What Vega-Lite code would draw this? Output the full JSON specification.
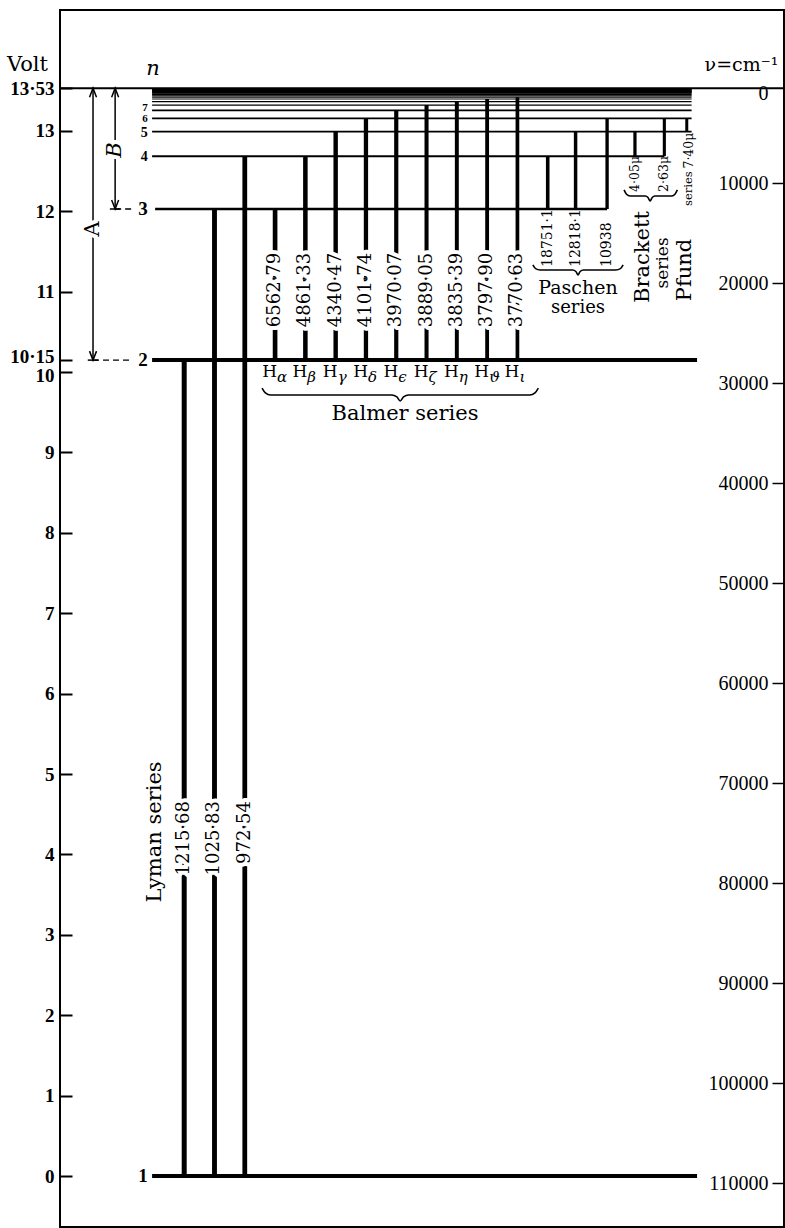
{
 "$schema": "https://vega.github.io/schema/vega-lite/v6.json",
 "width": 724,
 "height": 1217,
 "autosize": {"type": "none"},
 "padding": {"left": 60, "top": 10, "right": 1, "bottom": 1},
 "background": "white",
 "config": {"view": {"stroke": "black", "strokeWidth": 2}, "axis": {"grid": false, "domain": false}},
 "datasets": {
  "levels": [
   {"n": 1, "E": 0}, {"n": 2, "E": 10.1475}, {"n": 3, "E": 12.027}, {"n": 4, "E": 12.684},
   {"n": 5, "E": 12.989}, {"n": 6, "E": 13.154}, {"n": 7, "E": 13.254}, {"n": 8, "E": 13.319},
   {"n": 9, "E": 13.363}, {"n": 10, "E": 13.395}, {"n": 11, "E": 13.418}, {"n": 12, "E": 13.436},
   {"n": 13, "E": 13.45}, {"n": 14, "E": 13.461}, {"n": 15, "E": 13.47}, {"n": 16, "E": 13.477},
   {"n": 17, "E": 13.483}, {"n": 18, "E": 13.488}, {"n": 20, "E": 13.496}, {"n": 22, "E": 13.502},
   {"n": 25, "E": 13.508}, {"n": 30, "E": 13.515}, {"n": 40, "E": 13.522}
  ],
  "transitions": [
   {"series": "Lyman", "col": 0, "Eu": 10.1475, "El": 0, "label": "1215·68"},
   {"series": "Lyman", "col": 1, "Eu": 12.027, "El": 0, "label": "1025·83"},
   {"series": "Lyman", "col": 2, "Eu": 12.684, "El": 0, "label": "972·54"},
   {"series": "Balmer", "col": 3, "Eu": 12.027, "El": 10.1475, "label": "6562·79", "greek": "α"},
   {"series": "Balmer", "col": 4, "Eu": 12.684, "El": 10.1475, "label": "4861·33", "greek": "β"},
   {"series": "Balmer", "col": 5, "Eu": 12.989, "El": 10.1475, "label": "4340·47", "greek": "γ"},
   {"series": "Balmer", "col": 6, "Eu": 13.154, "El": 10.1475, "label": "4101·74", "greek": "δ"},
   {"series": "Balmer", "col": 7, "Eu": 13.254, "El": 10.1475, "label": "3970·07", "greek": "ϵ"},
   {"series": "Balmer", "col": 8, "Eu": 13.319, "El": 10.1475, "label": "3889·05", "greek": "ζ"},
   {"series": "Balmer", "col": 9, "Eu": 13.363, "El": 10.1475, "label": "3835·39", "greek": "η"},
   {"series": "Balmer", "col": 10, "Eu": 13.395, "El": 10.1475, "label": "3797·90", "greek": "ϑ"},
   {"series": "Balmer", "col": 11, "Eu": 13.418, "El": 10.1475, "label": "3770·63", "greek": "ι"},
   {"series": "Paschen", "col": 12, "Eu": 12.684, "El": 12.027, "label": "18751·1"},
   {"series": "Paschen", "col": 12.92, "Eu": 12.989, "El": 12.027, "label": "12818·1"},
   {"series": "Paschen", "col": 13.96, "Eu": 13.154, "El": 12.027, "label": "10938"},
   {"series": "Brackett", "col": 14.88, "Eu": 12.989, "El": 12.684, "label": "4·05μ"},
   {"series": "Brackett", "col": 15.85, "Eu": 13.154, "El": 12.684, "label": "2·63μ"},
   {"series": "Pfund", "col": 16.59, "Eu": 13.154, "El": 12.989, "label": "7·40μ"}
  ],
  "arrows": [
   {"name": "A", "col": -3.01, "top": 13.53, "bottom": 10.1475},
   {"name": "B", "col": -2.28, "top": 13.53, "bottom": 12.027}
  ],
  "braces": [
   {"brace": "Balmer", "o": 1, "x": 2.57, "y": 9.8}, {"brace": "Balmer", "o": 2, "x": 2.68, "y": 9.74},
   {"brace": "Balmer", "o": 3, "x": 2.85, "y": 9.714}, {"brace": "Balmer", "o": 4, "x": 6.85, "y": 9.714},
   {"brace": "Balmer", "o": 5, "x": 7.02, "y": 9.69}, {"brace": "Balmer", "o": 6, "x": 7.13, "y": 9.64},
   {"brace": "Balmer", "o": 7, "x": 7.24, "y": 9.69}, {"brace": "Balmer", "o": 8, "x": 7.41, "y": 9.714},
   {"brace": "Balmer", "o": 9, "x": 11.41, "y": 9.714}, {"brace": "Balmer", "o": 10, "x": 11.58, "y": 9.74},
   {"brace": "Balmer", "o": 11, "x": 11.69, "y": 9.8},
   {"brace": "Paschen", "o": 1, "x": 11.51, "y": 11.331}, {"brace": "Paschen", "o": 2, "x": 11.6, "y": 11.285},
   {"brace": "Paschen", "o": 3, "x": 11.75, "y": 11.269}, {"brace": "Paschen", "o": 4, "x": 12.82, "y": 11.269},
   {"brace": "Paschen", "o": 5, "x": 12.93, "y": 11.25}, {"brace": "Paschen", "o": 6, "x": 13.0, "y": 11.206},
   {"brace": "Paschen", "o": 7, "x": 13.07, "y": 11.25}, {"brace": "Paschen", "o": 8, "x": 13.18, "y": 11.269},
   {"brace": "Paschen", "o": 9, "x": 14.25, "y": 11.269}, {"brace": "Paschen", "o": 10, "x": 14.4, "y": 11.285},
   {"brace": "Paschen", "o": 11, "x": 14.49, "y": 11.331},
   {"brace": "Brackett", "o": 1, "x": 14.52, "y": 12.264}, {"brace": "Brackett", "o": 2, "x": 14.6, "y": 12.21},
   {"brace": "Brackett", "o": 3, "x": 14.72, "y": 12.189}, {"brace": "Brackett", "o": 4, "x": 15.22, "y": 12.189},
   {"brace": "Brackett", "o": 5, "x": 15.31, "y": 12.17}, {"brace": "Brackett", "o": 6, "x": 15.38, "y": 12.127},
   {"brace": "Brackett", "o": 7, "x": 15.45, "y": 12.17}, {"brace": "Brackett", "o": 8, "x": 15.54, "y": 12.189},
   {"brace": "Brackett", "o": 9, "x": 16.1, "y": 12.189}, {"brace": "Brackett", "o": 10, "x": 16.2, "y": 12.21},
   {"brace": "Brackett", "o": 11, "x": 16.28, "y": 12.264}
  ]
 },
 "layer": [
  {
   "layer": [
    {
     "data": {"name": "levels"},
     "transform": [{"filter": "datum.n >= 5"}],
     "mark": {"type": "rule", "color": "black"},
     "encoding": {
      "y": {"field": "E", "type": "quantitative", "scale": {"domain": [-0.634, 14.502], "nice": false, "zero": false}, "axis": null},
      "x": {"datum": -1.06, "type": "quantitative", "scale": {"domain": [-4.1, 19.8], "nice": false, "zero": false}, "axis": null},
      "x2": {"datum": 16.75},
      "strokeWidth": {"field": "n", "type": "quantitative", "scale": {"type": "threshold", "domain": [8], "range": [1.6, 1.1]}, "legend": null}
     }
    },
    {
     "data": {"name": "levels"},
     "transform": [{"filter": "datum.n == 4"}],
     "mark": {"type": "rule", "color": "black", "strokeWidth": 2},
     "encoding": {
      "y": {"field": "E", "type": "quantitative", "scale": {"domain": [-0.634, 14.502], "nice": false, "zero": false}, "axis": null},
      "x": {"datum": -1.06, "type": "quantitative", "scale": {"domain": [-4.1, 19.8], "nice": false, "zero": false}, "axis": null},
      "x2": {"datum": 15.85}
     }
    },
    {
     "data": {"name": "levels"},
     "transform": [{"filter": "datum.n == 3"}],
     "mark": {"type": "rule", "color": "black", "strokeWidth": 2.4},
     "encoding": {
      "y": {"field": "E", "type": "quantitative", "scale": {"domain": [-0.634, 14.502], "nice": false, "zero": false}, "axis": null},
      "x": {"datum": -0.96, "type": "quantitative", "scale": {"domain": [-4.1, 19.8], "nice": false, "zero": false}, "axis": null},
      "x2": {"datum": 13.96}
     }
    },
    {
     "data": {"name": "levels"},
     "transform": [{"filter": "datum.n <= 2"}],
     "mark": {"type": "rule", "color": "black", "strokeWidth": 4},
     "encoding": {
      "y": {"field": "E", "type": "quantitative", "scale": {"domain": [-0.634, 14.502], "nice": false, "zero": false}, "axis": null},
      "x": {"datum": -1.06, "type": "quantitative", "scale": {"domain": [-4.1, 19.8], "nice": false, "zero": false}, "axis": null},
      "x2": {"datum": 16.93}
     }
    },
    {
     "data": {"values": [{"E": 13.53}]},
     "mark": {"type": "rule", "color": "black", "strokeWidth": 2},
     "encoding": {
      "y": {"field": "E", "type": "quantitative", "scale": {"domain": [-0.634, 14.502], "nice": false, "zero": false}, "axis": null},
      "x": {"datum": -4.1, "type": "quantitative", "scale": {"domain": [-4.1, 19.8], "nice": false, "zero": false}, "axis": null},
      "x2": {"datum": 19.8}
     }
    },
    {
     "data": {"name": "transitions"},
     "mark": {"type": "rule", "color": "black"},
     "encoding": {
      "x": {"field": "col", "type": "quantitative", "scale": {"domain": [-4.1, 19.8], "nice": false, "zero": false}, "axis": null},
      "y": {"field": "Eu", "type": "quantitative", "scale": {"domain": [-0.634, 14.502], "nice": false, "zero": false}, "axis": null},
      "y2": {"field": "El"},
      "strokeWidth": {"field": "label", "type": "nominal", "legend": null,
       "scale": {"domain": ["1215·68", "1025·83", "972·54", "6562·79", "4861·33", "4340·47", "4101·74", "3970·07", "3889·05", "3835·39", "3797·90", "3770·63", "18751·1", "12818·1", "10938", "4·05μ", "2·63μ", "7·40μ"],
        "range": [5, 3, 2, 5, 4, 3, 2.5, 2, 2, 2, 2, 2, 2.5, 2, 2, 2, 1.6, 1.6]}}
     }
    },
    {
     "data": {"name": "arrows"},
     "mark": {"type": "rule", "color": "black", "strokeWidth": 1.5},
     "encoding": {
      "x": {"field": "col", "type": "quantitative", "scale": {"domain": [-4.1, 19.8], "nice": false, "zero": false}, "axis": null},
      "y": {"field": "top", "type": "quantitative", "scale": {"domain": [-0.634, 14.502], "nice": false, "zero": false}, "axis": null},
      "y2": {"field": "bottom"}
     }
    },
    {
     "data": {"name": "arrows"},
     "mark": {"type": "point", "filled": false, "color": "black", "strokeWidth": 1.5, "size": 100, "opacity": 1, "shape": "M-0.7,1.8L0,0L0.7,1.8"},
     "encoding": {
      "x": {"field": "col", "type": "quantitative", "scale": {"domain": [-4.1, 19.8], "nice": false, "zero": false}, "axis": null},
      "y": {"field": "top", "type": "quantitative", "scale": {"domain": [-0.634, 14.502], "nice": false, "zero": false}, "axis": null}
     }
    },
    {
     "data": {"name": "arrows"},
     "mark": {"type": "point", "filled": false, "color": "black", "strokeWidth": 1.5, "size": 100, "opacity": 1, "shape": "M-0.7,-1.8L0,0L0.7,-1.8"},
     "encoding": {
      "x": {"field": "col", "type": "quantitative", "scale": {"domain": [-4.1, 19.8], "nice": false, "zero": false}, "axis": null},
      "y": {"field": "bottom", "type": "quantitative", "scale": {"domain": [-0.634, 14.502], "nice": false, "zero": false}, "axis": null}
     }
    },
    {
     "data": {"name": "arrows"},
     "mark": {"type": "point", "filled": false, "color": "black", "strokeWidth": 1.5, "size": 110, "opacity": 1, "shape": "stroke"},
     "encoding": {
      "x": {"field": "col", "type": "quantitative", "scale": {"domain": [-4.1, 19.8], "nice": false, "zero": false}, "axis": null},
      "y": {"field": "bottom", "type": "quantitative", "scale": {"domain": [-0.634, 14.502], "nice": false, "zero": false}, "axis": null}
     }
    },
    {
     "data": {"name": "arrows"},
     "mark": {"type": "rule", "color": "black", "strokeWidth": 1.4, "strokeDash": [6, 4]},
     "encoding": {
      "x": {"field": "col", "type": "quantitative", "scale": {"domain": [-4.1, 19.8], "nice": false, "zero": false}, "axis": null},
      "x2": {"datum": -1.69},
      "y": {"field": "bottom", "type": "quantitative", "scale": {"domain": [-0.634, 14.502], "nice": false, "zero": false}, "axis": null}
     }
    },
    {
     "data": {"name": "transitions"},
     "transform": [{"filter": "datum.series == 'Lyman'"}],
     "mark": {"type": "text", "angle": 270, "align": "right", "baseline": "middle", "font": "DejaVu Serif", "fontSize": 18, "fill": "white", "stroke": "white", "strokeWidth": 8, "strokeJoin": "round"},
     "encoding": {
      "x": {"field": "col", "type": "quantitative", "scale": {"domain": [-4.1, 19.8], "nice": false, "zero": false}, "axis": null},
      "y": {"datum": 4.664, "type": "quantitative", "scale": {"domain": [-0.634, 14.502], "nice": false, "zero": false}, "axis": null},
      "text": {"field": "label", "type": "nominal"}
     }
    },
    {
     "data": {"name": "transitions"},
     "transform": [{"filter": "datum.series == 'Balmer'"}],
     "mark": {"type": "text", "angle": 270, "align": "center", "baseline": "middle", "font": "DejaVu Serif", "fontSize": 18, "fill": "white", "stroke": "white", "strokeWidth": 8, "strokeJoin": "round"},
     "encoding": {
      "x": {"field": "col", "type": "quantitative", "scale": {"domain": [-4.1, 19.8], "nice": false, "zero": false}, "axis": null},
      "y": {"datum": 11.02, "type": "quantitative", "scale": {"domain": [-0.634, 14.502], "nice": false, "zero": false}, "axis": null},
      "text": {"field": "label", "type": "nominal"}
     }
    },
    {
     "data": {"name": "arrows"},
     "transform": [{"filter": "datum.name == 'A'"}],
     "mark": {"type": "text", "angle": 270, "align": "center", "baseline": "middle", "font": "DejaVu Serif", "fontSize": 21, "fill": "white", "stroke": "white", "strokeWidth": 8, "strokeJoin": "round"},
     "encoding": {
      "x": {"field": "col", "type": "quantitative", "scale": {"domain": [-4.1, 19.8], "nice": false, "zero": false}, "axis": null},
      "y": {"datum": 11.778, "type": "quantitative", "scale": {"domain": [-0.634, 14.502], "nice": false, "zero": false}, "axis": null},
      "text": {"field": "name", "type": "nominal"}
     }
    },
    {
     "data": {"name": "arrows"},
     "transform": [{"filter": "datum.name == 'B'"}],
     "mark": {"type": "text", "angle": 270, "align": "center", "baseline": "middle", "font": "DejaVu Serif", "fontStyle": "italic", "fontSize": 21, "fill": "white", "stroke": "white", "strokeWidth": 8, "strokeJoin": "round"},
     "encoding": {
      "x": {"field": "col", "type": "quantitative", "scale": {"domain": [-4.1, 19.8], "nice": false, "zero": false}, "axis": null},
      "y": {"datum": 12.761, "type": "quantitative", "scale": {"domain": [-0.634, 14.502], "nice": false, "zero": false}, "axis": null},
      "text": {"field": "name", "type": "nominal"}
     }
    },
    {
     "data": {"name": "arrows"},
     "transform": [{"filter": "datum.name == 'A'"}],
     "mark": {"type": "text", "angle": 270, "align": "center", "baseline": "middle", "font": "DejaVu Serif", "fontSize": 21, "color": "black"},
     "encoding": {
      "x": {"field": "col", "type": "quantitative", "scale": {"domain": [-4.1, 19.8], "nice": false, "zero": false}, "axis": null},
      "y": {"datum": 11.778, "type": "quantitative", "scale": {"domain": [-0.634, 14.502], "nice": false, "zero": false}, "axis": null},
      "text": {"field": "name", "type": "nominal"}
     }
    },
    {
     "data": {"name": "arrows"},
     "transform": [{"filter": "datum.name == 'B'"}],
     "mark": {"type": "text", "angle": 270, "align": "center", "baseline": "middle", "font": "DejaVu Serif", "fontStyle": "italic", "fontSize": 21, "color": "black"},
     "encoding": {
      "x": {"field": "col", "type": "quantitative", "scale": {"domain": [-4.1, 19.8], "nice": false, "zero": false}, "axis": null},
      "y": {"datum": 12.761, "type": "quantitative", "scale": {"domain": [-0.634, 14.502], "nice": false, "zero": false}, "axis": null},
      "text": {"field": "name", "type": "nominal"}
     }
    },
    {
     "data": {"name": "transitions"},
     "transform": [{"filter": "datum.series == 'Lyman'"}],
     "mark": {"type": "text", "angle": 270, "align": "right", "baseline": "middle", "font": "DejaVu Serif", "fontSize": 18, "color": "black"},
     "encoding": {
      "x": {"field": "col", "type": "quantitative", "scale": {"domain": [-4.1, 19.8], "nice": false, "zero": false}, "axis": null},
      "y": {"datum": 4.664, "type": "quantitative", "scale": {"domain": [-0.634, 14.502], "nice": false, "zero": false}, "axis": null},
      "text": {"field": "label", "type": "nominal"}
     }
    },
    {
     "data": {"name": "transitions"},
     "transform": [{"filter": "datum.series == 'Balmer'"}],
     "mark": {"type": "text", "angle": 270, "align": "center", "baseline": "middle", "font": "DejaVu Serif", "fontSize": 18, "color": "black"},
     "encoding": {
      "x": {"field": "col", "type": "quantitative", "scale": {"domain": [-4.1, 19.8], "nice": false, "zero": false}, "axis": null},
      "y": {"datum": 11.02, "type": "quantitative", "scale": {"domain": [-0.634, 14.502], "nice": false, "zero": false}, "axis": null},
      "text": {"field": "label", "type": "nominal"}
     }
    },
    {
     "data": {"name": "transitions"},
     "transform": [{"filter": "datum.series == 'Paschen'"}],
     "mark": {"type": "text", "angle": 270, "align": "left", "baseline": "middle", "font": "DejaVu Serif", "fontSize": 14, "color": "black"},
     "encoding": {
      "x": {"field": "col", "type": "quantitative", "scale": {"domain": [-4.1, 19.8], "nice": false, "zero": false}, "axis": null},
      "y": {"datum": 11.306, "type": "quantitative", "scale": {"domain": [-0.634, 14.502], "nice": false, "zero": false}, "axis": null},
      "text": {"field": "label", "type": "nominal"}
     }
    },
    {
     "data": {"name": "transitions"},
     "transform": [{"filter": "datum.series == 'Brackett'"}],
     "mark": {"type": "text", "angle": 270, "align": "left", "baseline": "middle", "font": "DejaVu Serif", "fontSize": 12.5, "color": "black"},
     "encoding": {
      "x": {"field": "col", "type": "quantitative", "scale": {"domain": [-4.1, 19.8], "nice": false, "zero": false}, "axis": null},
      "y": {"datum": 12.239, "type": "quantitative", "scale": {"domain": [-0.634, 14.502], "nice": false, "zero": false}, "axis": null},
      "text": {"field": "label", "type": "nominal"}
     }
    },
    {
     "data": {"name": "transitions"},
     "transform": [{"filter": "datum.series == 'Pfund'"}],
     "mark": {"type": "text", "angle": 270, "align": "left", "baseline": "middle", "font": "DejaVu Serif", "fontSize": 12.5, "color": "black", "dx": 0, "dy": 2},
     "encoding": {
      "x": {"field": "col", "type": "quantitative", "scale": {"domain": [-4.1, 19.8], "nice": false, "zero": false}, "axis": null},
      "y": {"datum": 12.53, "type": "quantitative", "scale": {"domain": [-0.634, 14.502], "nice": false, "zero": false}, "axis": null},
      "text": {"field": "label", "type": "nominal"}
     }
    },
    {
     "data": {"name": "transitions"},
     "transform": [{"filter": "datum.series == 'Balmer'"}],
     "mark": {"type": "text", "align": "right", "baseline": "middle", "dx": 2, "font": "DejaVu Serif", "fontSize": 17, "color": "black"},
     "encoding": {
      "x": {"field": "col", "type": "quantitative", "scale": {"domain": [-4.1, 19.8], "nice": false, "zero": false}, "axis": null},
      "y": {"datum": 10.0, "type": "quantitative", "scale": {"domain": [-0.634, 14.502], "nice": false, "zero": false}, "axis": null},
      "text": {"value": "H"}
     }
    },
    {
     "data": {"name": "transitions"},
     "transform": [{"filter": "datum.series == 'Balmer'"}],
     "mark": {"type": "text", "align": "left", "baseline": "middle", "dx": 2, "dy": 5, "font": "DejaVu Serif", "fontStyle": "italic", "fontSize": 15, "color": "black"},
     "encoding": {
      "x": {"field": "col", "type": "quantitative", "scale": {"domain": [-4.1, 19.8], "nice": false, "zero": false}, "axis": null},
      "y": {"datum": 10.0, "type": "quantitative", "scale": {"domain": [-0.634, 14.502], "nice": false, "zero": false}, "axis": null},
      "text": {"field": "greek", "type": "nominal"}
     }
    },
    {
     "data": {"name": "braces"},
     "mark": {"type": "line", "color": "black", "strokeWidth": 1.6, "interpolate": "monotone"},
     "encoding": {
      "x": {"field": "x", "type": "quantitative", "scale": {"domain": [-4.1, 19.8], "nice": false, "zero": false}, "axis": null},
      "y": {"field": "y", "type": "quantitative", "scale": {"domain": [-0.634, 14.502], "nice": false, "zero": false}, "axis": null},
      "detail": {"field": "brace", "type": "nominal"},
      "order": {"field": "o", "type": "quantitative"}
     }
    },
    {
     "data": {"name": "levels"},
     "transform": [{"filter": "datum.n <= 3"}],
     "mark": {"type": "text", "align": "right", "baseline": "middle", "font": "Liberation Serif", "fontSize": 19, "fontWeight": "bold", "color": "black"},
     "encoding": {
      "x": {"datum": -1.2, "type": "quantitative", "scale": {"domain": [-4.1, 19.8], "nice": false, "zero": false}, "axis": null},
      "y": {"field": "E", "type": "quantitative", "scale": {"domain": [-0.634, 14.502], "nice": false, "zero": false}, "axis": null},
      "text": {"field": "n", "type": "nominal"}
     }
    },
    {
     "data": {"name": "levels"},
     "transform": [{"filter": "datum.n == 4 || datum.n == 5"}],
     "mark": {"type": "text", "align": "right", "baseline": "middle", "dy": 1, "font": "Liberation Serif", "fontSize": 14, "fontWeight": "bold", "color": "black"},
     "encoding": {
      "x": {"datum": -1.2, "type": "quantitative", "scale": {"domain": [-4.1, 19.8], "nice": false, "zero": false}, "axis": null},
      "y": {"field": "E", "type": "quantitative", "scale": {"domain": [-0.634, 14.502], "nice": false, "zero": false}, "axis": null},
      "text": {"field": "n", "type": "nominal"}
     }
    },
    {
     "data": {"name": "levels"},
     "transform": [{"filter": "datum.n == 6"}],
     "mark": {"type": "text", "align": "right", "baseline": "middle", "dy": 0.5, "font": "Liberation Serif", "fontSize": 11, "fontWeight": "bold", "color": "black"},
     "encoding": {
      "x": {"datum": -1.2, "type": "quantitative", "scale": {"domain": [-4.1, 19.8], "nice": false, "zero": false}, "axis": null},
      "y": {"field": "E", "type": "quantitative", "scale": {"domain": [-0.634, 14.502], "nice": false, "zero": false}, "axis": null},
      "text": {"field": "n", "type": "nominal"}
     }
    },
    {
     "data": {"name": "levels"},
     "transform": [{"filter": "datum.n == 7"}],
     "mark": {"type": "text", "align": "right", "baseline": "middle", "dy": -2.5, "font": "Liberation Serif", "fontSize": 11, "fontWeight": "bold", "color": "black"},
     "encoding": {
      "x": {"datum": -1.2, "type": "quantitative", "scale": {"domain": [-4.1, 19.8], "nice": false, "zero": false}, "axis": null},
      "y": {"field": "E", "type": "quantitative", "scale": {"domain": [-0.634, 14.502], "nice": false, "zero": false}, "axis": null},
      "text": {"field": "n", "type": "nominal"}
     }
    },
    {
     "data": {"values": [{"t": "n"}]},
     "mark": {"type": "text", "align": "center", "baseline": "alphabetic", "font": "DejaVu Serif", "fontStyle": "italic", "fontSize": 21, "color": "black"},
     "encoding": {
      "x": {"datum": -1.03, "type": "quantitative", "scale": {"domain": [-4.1, 19.8], "nice": false, "zero": false}, "axis": null},
      "y": {"datum": 13.694, "type": "quantitative", "scale": {"domain": [-0.634, 14.502], "nice": false, "zero": false}, "axis": null},
      "text": {"field": "t", "type": "nominal"}
     }
    },
    {
     "data": {"values": [{"t": "Lyman series"}]},
     "mark": {"type": "text", "angle": 270, "align": "center", "baseline": "middle", "font": "DejaVu Serif", "fontSize": 21, "color": "black"},
     "encoding": {
      "x": {"datum": -0.964, "type": "quantitative", "scale": {"domain": [-4.1, 19.8], "nice": false, "zero": false}, "axis": null},
      "y": {"datum": 4.279, "type": "quantitative", "scale": {"domain": [-0.634, 14.502], "nice": false, "zero": false}, "axis": null},
      "text": {"field": "t", "type": "nominal"}
     }
    },
    {
     "data": {"values": [{"t": "Balmer series"}]},
     "mark": {"type": "text", "align": "center", "baseline": "middle", "font": "DejaVu Serif", "fontSize": 21, "color": "black"},
     "encoding": {
      "x": {"datum": 7.29, "type": "quantitative", "scale": {"domain": [-4.1, 19.8], "nice": false, "zero": false}, "axis": null},
      "y": {"datum": 9.478, "type": "quantitative", "scale": {"domain": [-0.634, 14.502], "nice": false, "zero": false}, "axis": null},
      "text": {"field": "t", "type": "nominal"}
     }
    },
    {
     "data": {"values": [{"t": "Paschen"}]},
     "mark": {"type": "text", "align": "center", "baseline": "middle", "font": "DejaVu Serif", "fontSize": 19, "color": "black"},
     "encoding": {
      "x": {"datum": 13.0, "type": "quantitative", "scale": {"domain": [-4.1, 19.8], "nice": false, "zero": false}, "axis": null},
      "y": {"datum": 11.045, "type": "quantitative", "scale": {"domain": [-0.634, 14.502], "nice": false, "zero": false}, "axis": null},
      "text": {"field": "t", "type": "nominal"}
     }
    },
    {
     "data": {"values": [{"t": "series"}]},
     "mark": {"type": "text", "align": "center", "baseline": "middle", "font": "DejaVu Serif", "fontSize": 18, "color": "black"},
     "encoding": {
      "x": {"datum": 13.0, "type": "quantitative", "scale": {"domain": [-4.1, 19.8], "nice": false, "zero": false}, "axis": null},
      "y": {"datum": 10.796, "type": "quantitative", "scale": {"domain": [-0.634, 14.502], "nice": false, "zero": false}, "axis": null},
      "text": {"field": "t", "type": "nominal"}
     }
    },
    {
     "data": {"values": [{"t": "Brackett"}]},
     "mark": {"type": "text", "angle": 270, "align": "center", "baseline": "middle", "font": "DejaVu Serif", "fontSize": 21, "color": "black"},
     "encoding": {
      "x": {"datum": 15.15, "type": "quantitative", "scale": {"domain": [-4.1, 19.8], "nice": false, "zero": false}, "axis": null},
      "y": {"datum": 11.43, "type": "quantitative", "scale": {"domain": [-0.634, 14.502], "nice": false, "zero": false}, "axis": null},
      "text": {"field": "t", "type": "nominal"}
     }
    },
    {
     "data": {"values": [{"t": "series"}]},
     "mark": {"type": "text", "angle": 270, "align": "center", "baseline": "middle", "font": "DejaVu Serif", "fontSize": 17, "color": "black"},
     "encoding": {
      "x": {"datum": 15.81, "type": "quantitative", "scale": {"domain": [-4.1, 19.8], "nice": false, "zero": false}, "axis": null},
      "y": {"datum": 11.356, "type": "quantitative", "scale": {"domain": [-0.634, 14.502], "nice": false, "zero": false}, "axis": null},
      "text": {"field": "t", "type": "nominal"}
     }
    },
    {
     "data": {"values": [{"t": "Pfund"}]},
     "mark": {"type": "text", "angle": 270, "align": "center", "baseline": "middle", "font": "DejaVu Serif", "fontSize": 21, "color": "black"},
     "encoding": {
      "x": {"datum": 16.53, "type": "quantitative", "scale": {"domain": [-4.1, 19.8], "nice": false, "zero": false}, "axis": null},
      "y": {"datum": 11.269, "type": "quantitative", "scale": {"domain": [-0.634, 14.502], "nice": false, "zero": false}, "axis": null},
      "text": {"field": "t", "type": "nominal"}
     }
    },
    {
     "data": {"values": [{"t": "series"}]},
     "mark": {"type": "text", "angle": 270, "align": "left", "baseline": "middle", "font": "DejaVu Serif", "fontSize": 11.5, "color": "black"},
     "encoding": {
      "x": {"datum": 16.65, "type": "quantitative", "scale": {"domain": [-4.1, 19.8], "nice": false, "zero": false}, "axis": null},
      "y": {"datum": 12.065, "type": "quantitative", "scale": {"domain": [-0.634, 14.502], "nice": false, "zero": false}, "axis": null},
      "text": {"field": "t", "type": "nominal"}
     }
    }
   ]
  },
  {
   "data": {"values": [{"E": 0}, {"E": 13.53}]},
   "mark": {"type": "point", "opacity": 0},
   "encoding": {
    "y": {"field": "E", "type": "quantitative", "scale": {"domain": [-0.634, 14.502], "nice": false, "zero": false},
     "axis": {"orient": "left", "values": [0, 1, 2, 3, 4, 5, 6, 7, 8, 9, 10, 10.15, 11, 12, 13, 13.53],
      "labelExpr": "replace(toString(datum.value), '.', '·')",
      "tickSize": -12, "tickWidth": 2, "tickColor": "black", "labelPadding": 18,
      "labelOffset": {"condition": [{"test": "datum.value === 10.15", "value": -3}, {"test": "datum.value === 10", "value": 4}], "value": 0},
      "labelFont": "Liberation Serif", "labelFontSize": 19, "labelFontWeight": "bold", "labelColor": "black",
      "labelOverlap": false, "labelFlush": false, "labelBaseline": "middle", "domain": false, "grid": false,
      "title": "Volt", "titleAngle": 0, "titleX": -33, "titleY": 60, "titleAlign": "center", "titleBaseline": "alphabetic",
      "titleFont": "DejaVu Serif", "titleFontSize": 21, "titleFontWeight": "normal", "titleColor": "black"}}
   }
  },
  {
   "data": {"values": [{"nu": 0}, {"nu": 110000}]},
   "mark": {"type": "point", "opacity": 0},
   "encoding": {
    "y": {"field": "nu", "type": "quantitative", "scale": {"domain": [-7300, 114400], "reverse": true, "nice": false, "zero": false},
     "axis": {"orient": "right", "values": [0, 10000, 20000, 30000, 40000, 50000, 60000, 70000, 80000, 90000, 100000, 110000],
      "format": "d", "tickSize": -12, "tickWidth": 1.5, "tickColor": "black",
      "tickOpacity": {"condition": {"test": "datum.value === 0", "value": 0}, "value": 1},
      "labelPadding": -4, "labelAlign": "right",
      "labelBaseline": {"condition": {"test": "datum.value === 0", "value": "top"}, "value": "middle"},
      "labelFont": "Liberation Serif", "labelFontSize": 20, "labelColor": "black", "labelOverlap": false, "labelFlush": false,
      "domain": false, "grid": false,
      "title": "ν=cm⁻¹", "titleAngle": 0, "titleX": -43, "titleY": 60, "titleAlign": "center", "titleBaseline": "alphabetic",
      "titleFont": "DejaVu Serif", "titleFontSize": 19, "titleFontWeight": "normal", "titleColor": "black"}}
   }
  }
 ]
 ,
 "resolve": {"scale": {"y": "independent"}, "axis": {"y": "independent"}}
}
